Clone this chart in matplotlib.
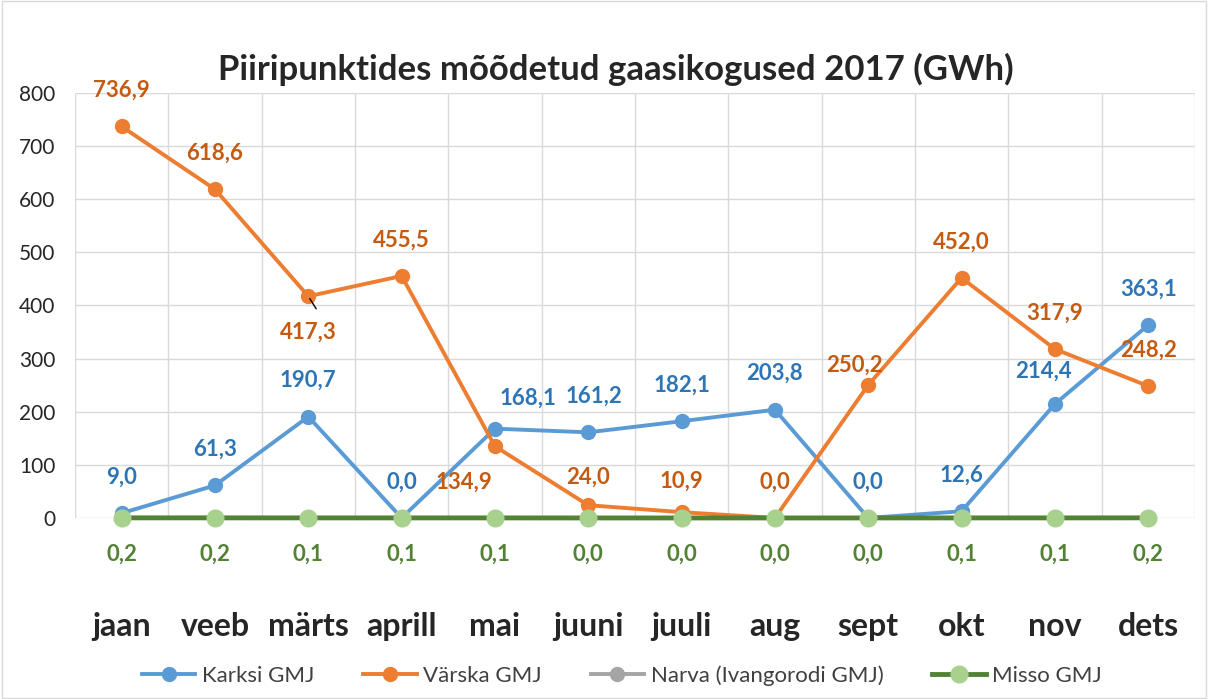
import matplotlib.pyplot as plt
from matplotlib.patches import Rectangle

plt.rcParams['font.family'] = ['Lato', 'DejaVu Sans']

months = ['jaan', 'veeb', 'märts', 'aprill', 'mai', 'juuni', 'juuli', 'aug', 'sept', 'okt', 'nov', 'dets']
karksi = [9.0, 61.3, 190.7, 0.0, 168.1, 161.2, 182.1, 203.8, 0.0, 12.6, 214.4, 363.1]
varska = [736.9, 618.6, 417.3, 455.5, 134.9, 24.0, 10.9, 0.0, 250.2, 452.0, 317.9, 248.2]
narva = [0.0] * 12
misso = [0.2, 0.2, 0.1, 0.1, 0.1, 0.0, 0.0, 0.0, 0.0, 0.1, 0.1, 0.2]

def fmt(v):
    return f'{v:.1f}'.replace('.', ',')

fig = plt.figure(figsize=(12.08, 6.99), dpi=100)
fig.patches.append(Rectangle((0.002, 0.002), 0.996, 0.996, transform=fig.transFigure,
                             fill=False, edgecolor='#d9d9d9', linewidth=1))
ax = fig.add_axes([0.0621, 0.259, 0.927, 0.608])

x = list(range(len(months)))
blue, orange, gray, green, lgreen = '#5b9bd5', '#ed7d31', '#a5a5a5', '#548235', '#a9d18e'
ax.plot(x, karksi, color=blue, lw=2.8, marker='o', ms=10, label='Karksi GMJ', zorder=3,
        clip_on=False)
ax.plot(x, varska, color=orange, lw=2.8, marker='o', ms=10, label='Värska GMJ', zorder=3,
        clip_on=False)
ax.plot(x, narva, color=gray, lw=2.8, marker='o', ms=10, label='Narva (Ivangorodi GMJ)',
        zorder=3, clip_on=False)
ax.plot(x, misso, color=green, lw=3.5, marker='o', ms=12, mfc=lgreen, mec=lgreen,
        label='Misso GMJ', zorder=4, clip_on=False)

ax.set_xlim(-0.5, 11.5)
ax.set_ylim(0, 800)
ax.set_yticks(range(0, 801, 100))
ax.set_xticks([i + 0.5 for i in range(-1, 12)])
ax.set_xticklabels([])
ax.grid(True, color='#d9d9d9', lw=1)
ax.set_axisbelow(True)
for s in ax.spines.values():
    s.set_visible(False)
ax.tick_params(length=0, labelsize=15, colors='#262626', pad=14)

for i, m in enumerate(months):
    ax.annotate(m, (i, 0), xytext=(0, -78), textcoords='offset points', ha='center',
                va='center', fontsize=23, fontweight='bold', color='#262626')

# label offsets in points (dx, dy)
k_off = [(0, 26), (0, 26), (0, 26), (0, 26), (24, 22), (4, 26), (0, 26), (0, 26),
         (0, 26), (0, 26), (-8, 24), (0, 26)]
v_off = [(0, 26), (0, 26), (0, -26), (0, 26), (-22, -26), (0, 20), (0, 22), (0, 26),
         (-10, 14), (0, 26), (0, 26), (0, 26)]
for i, v in enumerate(karksi):
    ax.annotate(fmt(v), (i, v), xytext=k_off[i], textcoords='offset points', ha='center',
                va='center', fontsize=16, fontweight='bold', color='#2e75b6')
for i, v in enumerate(varska):
    ax.annotate(fmt(v), (i, v), xytext=v_off[i], textcoords='offset points', ha='center',
                va='center', fontsize=16, fontweight='bold', color='#c55a11')
for i, v in enumerate(misso):
    ax.annotate(fmt(v), (i, v), xytext=(0, -26), textcoords='offset points', ha='center',
                va='center', fontsize=16, fontweight='bold', color=green)
ax.annotate('', (2, varska[2]), xytext=(2.1, varska[2] - 28),
            arrowprops=dict(arrowstyle='-', color='black', lw=1))

fig.suptitle('Piiripunktides mõõdetud gaasikogused 2017 (GWh)', x=0.51, y=0.925, fontsize=25,
             fontweight='bold', color='#262626')
fig.legend(loc='center', bbox_to_anchor=(0.515, 0.034), ncol=4, frameon=False,
           fontsize=16, handlelength=2.4, handletextpad=0.3, columnspacing=2.2,
           labelcolor='#404040')

fig.savefig('out.png', dpi=100)
